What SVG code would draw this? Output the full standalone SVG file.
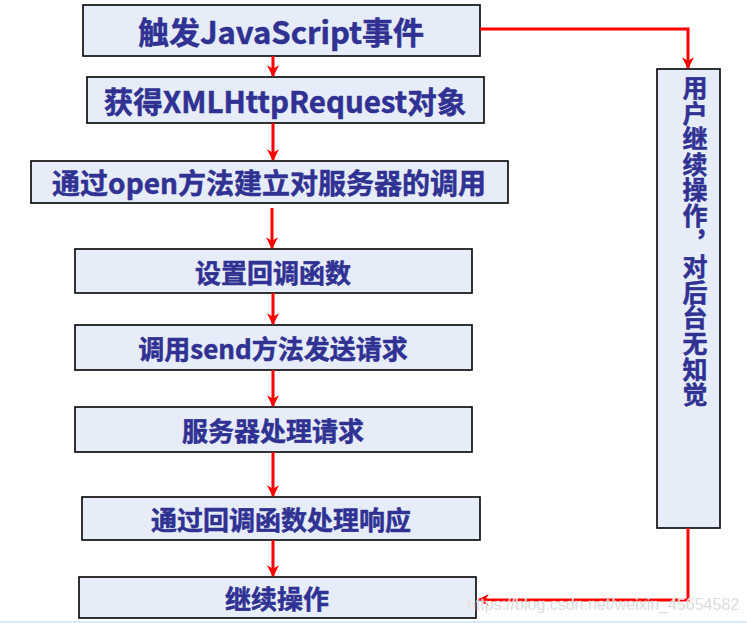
<svg xmlns="http://www.w3.org/2000/svg" width="747" height="623" viewBox="0 0 747 623">
<style>
.box{fill:#E7EDF8;stroke:#000;stroke-width:1.6}
.t{font-family:"Noto Sans CJK SC","Noto Sans",sans-serif;font-weight:bold;fill:#2F3293;stroke:#2F3293;stroke-width:0.5;text-anchor:middle;dominant-baseline:central}
.big{font-size:28px}
.mid{font-size:26px}
.c{fill:none;stroke:#FF0000;stroke-width:3}
.wm{font-family:"Liberation Sans",Arial,sans-serif;font-size:16px;fill:#D0D0D0;stroke:#FFFFFF;stroke-width:0.3}
</style>
<defs>
<marker id="ah" viewBox="0 0 10 10" refX="9" refY="5" markerWidth="4" markerHeight="4" orient="auto" markerUnits="strokeWidth">
<path d="M0,0 L10,5 L0,10 L3,5 z" fill="#FF0000"/>
</marker>
</defs>
<rect x="0" y="0" width="747" height="623" fill="#FFFFFF"/>
<g id="n1"><rect class="box" x="83" y="5" width="397" height="51"/><text class="t" style="font-size:31px" x="281" y="30">触发JavaScript事件</text></g>
<g id="n2"><rect class="box" x="87" y="77" width="397" height="46"/><text class="t" style="font-size:29.5px" x="285" y="100">获得XMLHttpRequest对象</text></g>
<g id="n3"><rect class="box" x="31" y="161" width="477" height="42"/><text class="t big" x="269" y="182">通过open方法建立对服务器的调用</text></g>
<g id="n4"><rect class="box" x="75" y="249" width="397" height="44"/><text class="t mid" x="273" y="271">设置回调函数</text></g>
<g id="n5"><rect class="box" x="75" y="325" width="397" height="45"/><text class="t mid" x="273" y="347">调用send方法发送请求</text></g>
<g id="n6"><rect class="box" x="75" y="407" width="397" height="45"/><text class="t mid" x="273" y="429">服务器处理请求</text></g>
<g id="n7"><rect class="box" x="82" y="497" width="398" height="43"/><text class="t mid" x="281" y="518">通过回调函数处理响应</text></g>
<g id="n8"><rect class="box" x="79" y="577" width="397" height="41"/><text class="t mid" x="277" y="597">继续操作</text></g>
<g id="n9"><rect class="box" x="657" y="69" width="63" height="459"/><text class="t" x="695" y="75" style="font-size:25px;writing-mode:vertical-rl;text-anchor:start;letter-spacing:0.6px">用户继续操作，对后台无知觉</text></g>
<g id="connectors">
<line class="c" x1="273" y1="56" x2="273" y2="76" marker-end="url(#ah)"/>
<line class="c" x1="273" y1="123" x2="273" y2="160" marker-end="url(#ah)"/>
<line class="c" x1="272" y1="208" x2="272" y2="248" marker-end="url(#ah)"/>
<line class="c" x1="273" y1="293" x2="273" y2="324" marker-end="url(#ah)"/>
<line class="c" x1="273" y1="370" x2="273" y2="406" marker-end="url(#ah)"/>
<line class="c" x1="273" y1="452" x2="273" y2="496" marker-end="url(#ah)"/>
<line class="c" x1="273" y1="540" x2="273" y2="576" marker-end="url(#ah)"/>
<polyline class="c" points="480,29 688,29 688,68" marker-end="url(#ah)"/>
<polyline class="c" points="688,528 688,600 478,600" marker-end="url(#ah)"/>
</g>
<text class="wm" x="467" y="610">https://blog.csdn.net/weixin_45654582</text>
<line x1="0" y1="622" x2="747" y2="622" stroke="#D6EAF8" stroke-width="2"/>
</svg>
